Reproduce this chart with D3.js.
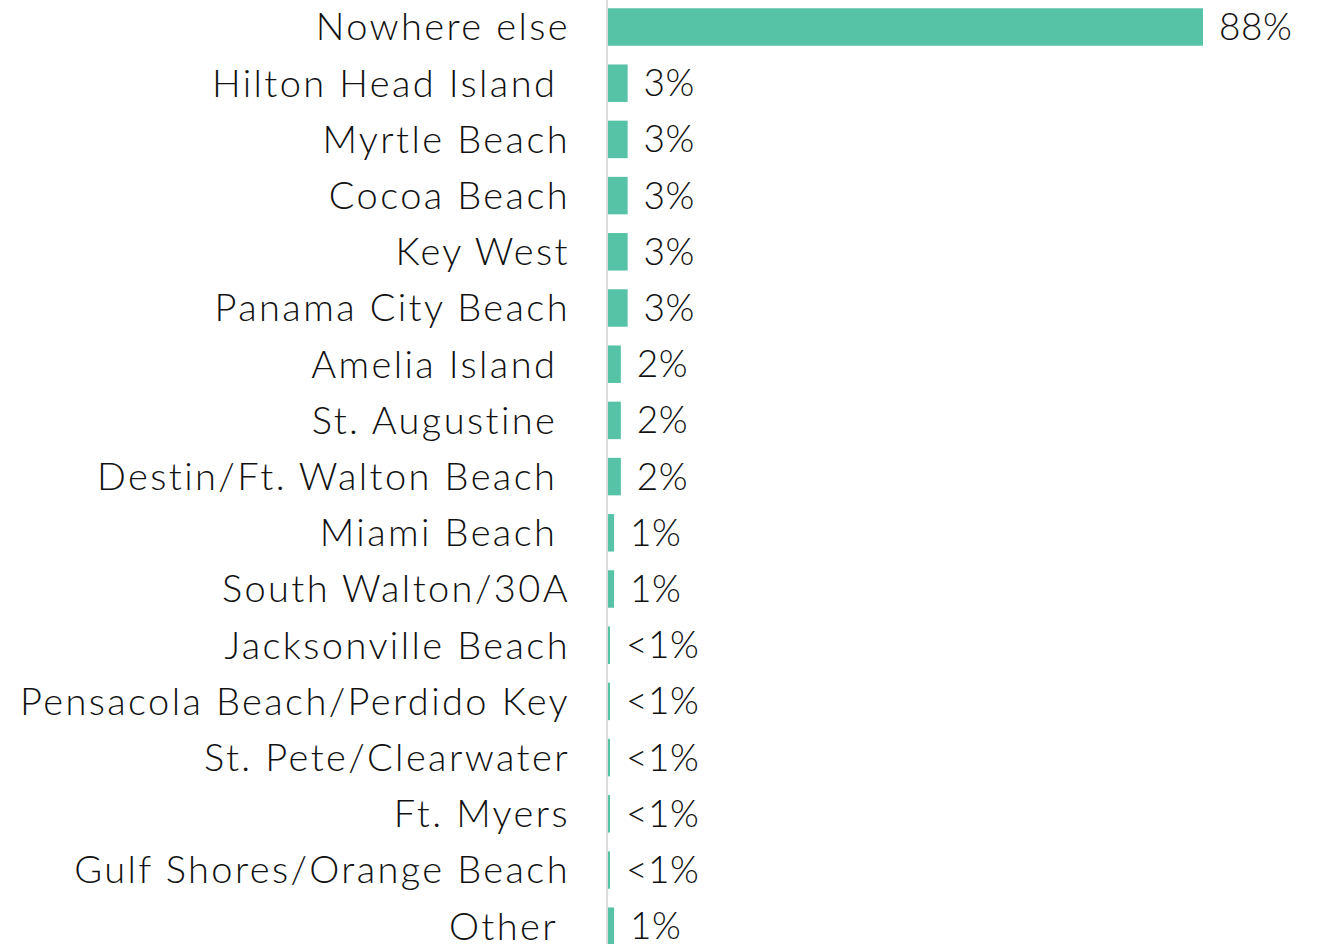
<html>
  <head>
    <script src="https://d3js.org/d3.v7.min.js"></script>
  </head>
  <body style="margin:0;background:#fff">
    <svg id="chart" width="1317" height="944"></svg>
    <script>
      // data (trailing nbsp = label ends a bit further left)
      const places = ['Nowhere else', 'Hilton Head Island\u00a0', 'Myrtle Beach', 'Cocoa Beach', 'Key West',
        'Panama City Beach', 'Amelia Island\u00a0', 'St. Augustine\u00a0', 'Destin/Ft. Walton Beach\u00a0',
        'Miami Beach\u00a0', 'South Walton/30A', 'Jacksonville Beach', 'Pensacola Beach/Perdido Key',
        'St. Pete/Clearwater', 'Ft. Myers', 'Gulf Shores/Orange Beach', 'Other\u00a0'];
      const shares = [88, 2.9, 2.9, 2.9, 2.9, 2.9, 1.9, 1.9, 1.9, 0.9, 0.9, 0.3, 0.3, 0.3, 0.3, 0.3, 0.9];
      const shareLabels = ['88%', '3%', '3%', '3%', '3%', '3%', '2%', '2%', '2%', '1%', '1%',
        '<1%', '<1%', '<1%', '<1%', '<1%', '1%'];

      const svg = d3.select('svg#chart');
      const axisX = 607;

      const xScale = d3.scaleLinear().domain([0, 88]).range([axisX + 1, 1203]);
      const yScale = d3.scaleBand().domain(places).range([-1.1, -1.1 + 17 * 56.2])
                       .paddingInner(0.333).paddingOuter(0.1665);

      // thin grey baseline
      svg.append('line')
        .attr('x1', axisX).attr('x2', axisX)
        .attr('y1', 0).attr('y2', 944)
        .attr('stroke', '#dcdcdc').attr('stroke-width', 2);

      places.forEach((p, i) => {
        const yc = yScale(p) + yScale.bandwidth() / 2;
        svg.append('rect')
          .attr('x', xScale(0))
          .attr('y', yScale(p))
          .attr('width', xScale(shares[i]) - xScale(0))
          .attr('height', yScale.bandwidth())
          .style('fill', '#56c2a6');

        svg.append('text')
          .attr('class', 'lab')
          .attr('x', 570)
          .attr('y', yc)
          .attr('dy', '0.35em')
          .attr('text-anchor', 'end')
          .style('white-space', 'pre')
          .text(p);

        svg.append('text')
          .attr('class', 'val')
          .attr('x', xScale(shares[i]) + 16)
          .attr('y', yc)
          .attr('dy', '0.35em')
          .text(shareLabels[i]);
      });
    </script>
    <style>
      text {
        font-family: Lato, 'Open Sans', sans-serif;
        font-weight: 300;
        font-size: 38px;
        fill: #111;
      }
      .lab { letter-spacing: 2.4px; }
      .val { font-size: 37px; letter-spacing: 0.5px; }
    </style>
  </body>
</html>
